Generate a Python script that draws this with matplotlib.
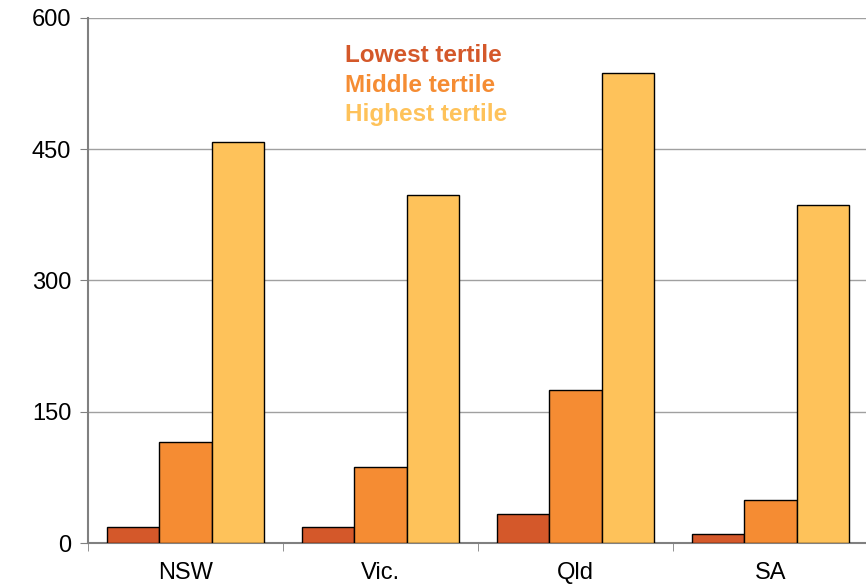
import numpy as np
import matplotlib.pyplot as plt

plt.rcParams['font.family'] = ['Liberation Sans', 'DejaVu Sans']

states = ['NSW', 'Vic.', 'Qld', 'SA']
series = ['Lowest tertile', 'Middle tertile', 'Highest tertile']
lowest = [18, 18, 33, 10]
middle = [115, 87, 175, 49]
highest = [458, 398, 537, 386]
colors = ['#D4582A', '#F58C33', '#FEC25A']

fig = plt.figure(figsize=(8.66, 5.84), dpi=100)
ax = fig.add_axes([88 / 866, 1 - 543 / 584, 780 / 866, 525 / 584])

x = np.arange(len(states))
w = 0.27
for i, (vals, c) in enumerate(zip([lowest, middle, highest], colors)):
    ax.bar(x + (i - 1) * w, vals, w, color=c, edgecolor='black', linewidth=1, zorder=3)

ax.set_xlim(-0.5, len(states) - 0.5)
ax.set_ylim(0, 600)
ax.set_yticks([0, 150, 300, 450, 600])
ax.yaxis.grid(True, color='#A0A0A0', linewidth=1, zorder=0)
ax.tick_params(axis='y', length=6, color='#808080', labelsize=17, pad=6, direction='out')

ax.set_xticks(x)
ax.set_xticklabels(states)
ax.set_xticks(np.arange(-0.5, len(states)), minor=True)
ax.tick_params(axis='x', which='major', length=0, labelsize=17, pad=14)
ax.tick_params(axis='x', which='minor', length=6, color='#808080', direction='out')

for s in ['top', 'right']:
    ax.spines[s].set_visible(False)
ax.spines['left'].set_color('#808080')
ax.spines['left'].set_linewidth(1.5)
ax.spines['bottom'].set_color('#808080')
ax.spines['bottom'].set_linewidth(1.5)

for j, (name, c) in enumerate(zip(series, colors)):
    fig.text(345 / 866, 1 - (55 + 30 * j) / 584, name, color=c, fontsize=17.5,
             fontweight='bold', va='center', ha='left')

fig.savefig('out.png', dpi=100)
